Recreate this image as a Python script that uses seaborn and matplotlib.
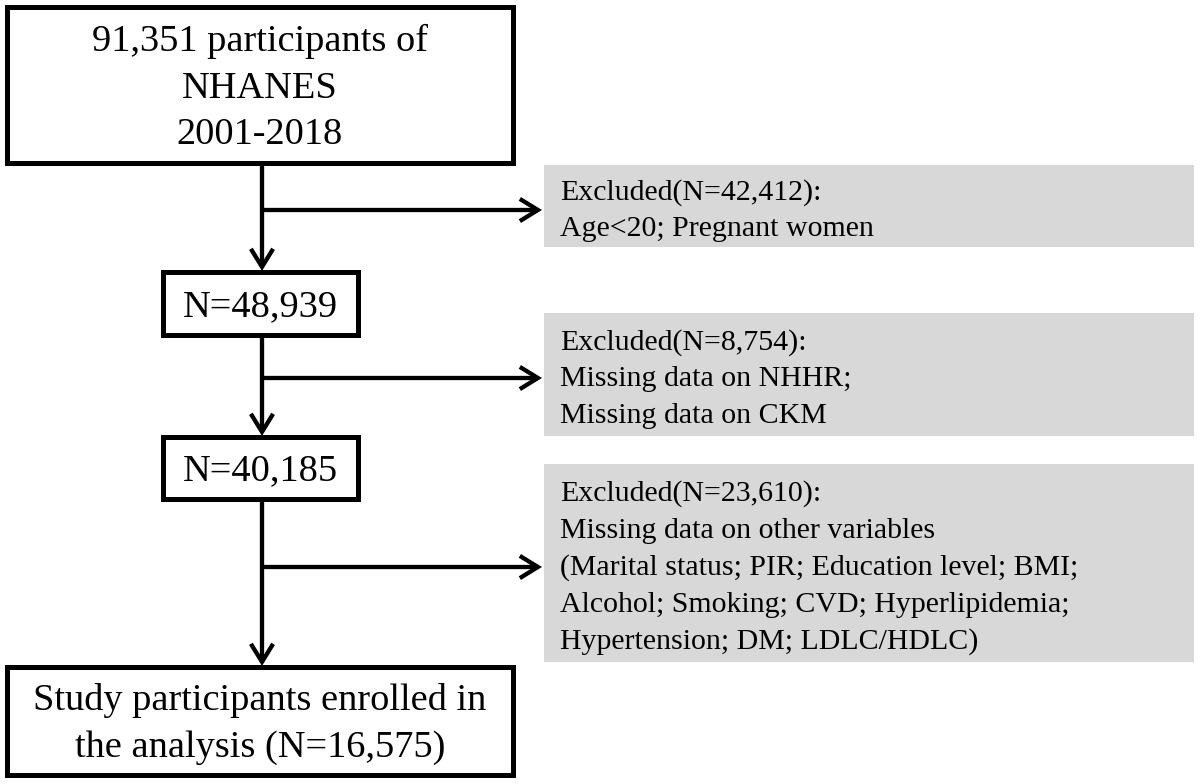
import matplotlib
matplotlib.use("Agg")
import matplotlib.pyplot as plt
from matplotlib.patches import Rectangle
import seaborn as sns

# ---------------- data ----------------
main_counts = [91351, 48939, 40185, 16575]
main_labels = [
    ["91,351 participants of", "NHANES", "2001-2018"],
    ["N=48,939"],
    ["N=40,185"],
    ["Study participants enrolled in", "the analysis (N=16,575)"],
]
excluded_counts = [42412, 8754, 23610]
excluded_labels = [
    ["Excluded(N=42,412):", "Age<20; Pregnant women"],
    ["Excluded(N=8,754):", "Missing data on NHHR;", "Missing data on CKM"],
    ["Excluded(N=23,610):", "Missing data on other variables",
     "(Marital status; PIR; Education level; BMI;",
     "Alcohol; Smoking; CVD; Hyperlipidemia;",
     "Hypertension; DM; LDLC/HDLC)"],
]

# ---------------- style ----------------
sns.set_theme(style="white")
plt.rcParams["font.family"] = ["Liberation Serif", "DejaVu Serif"]

W, H = 1200, 784
fig = plt.figure(figsize=(W / 100, H / 100), dpi=100)
ax = fig.add_axes([0, 0, 1, 1])
ax.set_xlim(0, W)
ax.set_ylim(H, 0)
ax.axis("off")

# layout (pixel coordinates: x0, y0, x1, y1)
main_boxes = [(7, 7, 513, 163), (163, 272, 358, 335), (163, 437, 358, 499), (7, 667, 513, 775)]
grey_boxes = [(544, 165, 1194, 247), (544, 313, 1194, 436), (544, 464, 1194, 662)]
branch_y = [210, 378, 567]
stem_x = 262

main_fs, main_sp = 27.6, 46.5
grey_fs, grey_sp = 21.5, 37
grey = "#d8d8d8"

for (x0, y0, x1, y1), lines in zip(main_boxes, main_labels):
    ax.add_patch(Rectangle((x0, y0), x1 - x0, y1 - y0, fill=False,
                           edgecolor="black", linewidth=3.6, joinstyle="miter", zorder=3))
    cy = (y0 + y1) / 2
    n = len(lines)
    cap = 0.66 * main_fs / 0.72
    for i, t in enumerate(lines):
        yb = cy + (i - (n - 1) / 2) * main_sp + cap / 2
        ax.text((x0 + x1) / 2, yb, t, ha="center", va="baseline",
                fontsize=main_fs, color="black", zorder=4)

for (x0, y0, x1, y1), lines in zip(grey_boxes, excluded_labels):
    ax.add_patch(Rectangle((x0, y0), x1 - x0, y1 - y0, facecolor=grey,
                           edgecolor="none", zorder=1))
    cy = (y0 + y1) / 2 + 2
    n = len(lines)
    cap = 0.66 * grey_fs / 0.72
    for i, t in enumerate(lines):
        yb = cy + (i - (n - 1) / 2) * grey_sp + cap / 2
        ax.text(x0 + 16, yb, t, ha="left", va="baseline",
                fontsize=grey_fs, color="black", zorder=4)

arrow_kw = dict(arrowstyle="->,head_length=0.65,head_width=0.4",
                color="black", lw=3.1, shrinkA=0, shrinkB=0,
                mutation_scale=20, joinstyle="miter", capstyle="butt")

# vertical arrows between main boxes
for k in range(len(main_boxes) - 1):
    y_start = main_boxes[k][3]
    y_end = main_boxes[k + 1][1] - 1
    ax.annotate("", xy=(stem_x, y_end), xytext=(stem_x, y_start),
                arrowprops=arrow_kw, zorder=2)

# branch arrows to excluded boxes
for yb, (gx0, _, _, _) in zip(branch_y, grey_boxes):
    ax.annotate("", xy=(gx0 - 2, yb), xytext=(stem_x, yb),
                arrowprops=arrow_kw, zorder=2)

fig.savefig("out.png", dpi=100, facecolor="white")
